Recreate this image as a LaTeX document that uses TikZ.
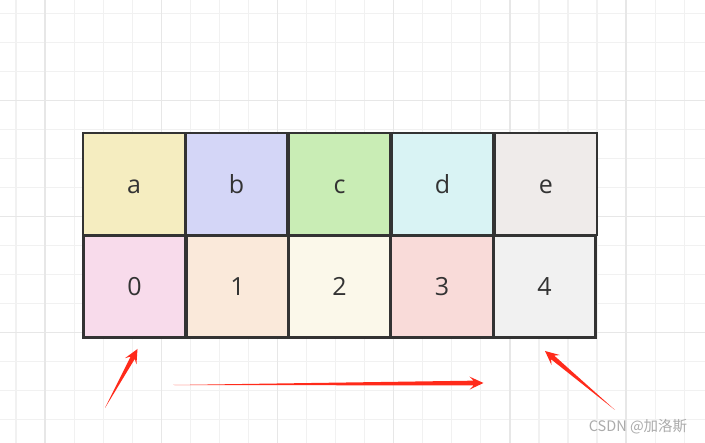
\documentclass[tikz,border=0pt]{standalone}
\usepackage{fontspec}
\setmainfont{Open Sans}
\newfontfamily\cjk{Noto Sans CJK SC}
\usetikzlibrary{calc}
\definecolor{gridminor}{HTML}{F1F1F1}
\definecolor{gridmajor}{HTML}{E7E7E7}
\definecolor{celledge}{HTML}{333333}
\definecolor{arrowred}{HTML}{FF2A1A}
\definecolor{ca}{HTML}{F5EDC0}
\definecolor{cb}{HTML}{D4D6F7}
\definecolor{cc}{HTML}{C9EDB5}
\definecolor{cd}{HTML}{D9F3F4}
\definecolor{ce}{HTML}{EFEBEA}
\definecolor{c0}{HTML}{F8DBEB}
\definecolor{c1}{HTML}{FAE9DA}
\definecolor{c2}{HTML}{FBF8EA}
\definecolor{c3}{HTML}{F9DBD9}
\definecolor{c4}{HTML}{F1F1F1}
\tikzset{
  cell/.style={draw=celledge, line width=2.6pt, rectangle, inner sep=0pt,
    minimum width=102pt, minimum height=102pt,
    text height=19pt, text depth=0pt, text=celledge,
    font=\fontsize{25}{25}\selectfont},
  watermark/.style={text=black!33, font=\cjk\fontsize{14.5}{14.5}\selectfont, inner sep=0pt},
}
\newcommand\taperarrow[2]{%
  \fill[arrowred] (#1)
    -- ($(#2)!10pt!(#1)!2.4pt!90:(#2)$)
    -- ($(#2)!14pt!(#1)!6.5pt!90:(#2)$)
    -- (#2)
    -- ($(#2)!14pt!(#1)!6.5pt!-90:(#2)$)
    -- ($(#2)!10pt!(#1)!2.4pt!-90:(#2)$)
    -- cycle;}
\begin{document}
\begin{tikzpicture}[x=1pt,y=-1pt]
\useasboundingbox (0,0) rectangle (705,443);
\fill[white] (0,0) rectangle (705,443);
% grid
\foreach \k in {0,...,23} {\draw[gridminor, line width=1.2pt] ({16+29.05*\k},0) -- ({16+29.05*\k},443);}
\foreach \k in {0,...,14} {\draw[gridminor, line width=1.2pt] (0,{13.5+29*\k}) -- (705,{13.5+29*\k});}
\foreach \k in {1,5,...,21} {\draw[gridmajor, line width=1.4pt] ({16+29.05*\k},0) -- ({16+29.05*\k},443);}
\foreach \k in {3,7,11} {\draw[gridmajor, line width=1.4pt] (0,{13.5+29*\k}) -- (705,{13.5+29*\k});}
% cells
\node[cell, fill=ca] (a) at (134,184) {a};
\node[cell, fill=cb] (b) at (236.5,184) {b};
\node[cell, fill=cc] (c) at (339.5,184) {c};
\node[cell, fill=cd] (d) at (442.5,184) {d};
\node[cell, fill=ce] (e) at (546,184) {e};
\node[cell, fill=c0] (n0) at (134.5,286.5) {0};
\node[cell, fill=c1] (n1) at (237.5,286.5) {1};
\node[cell, fill=c2] (n2) at (339.5,286.5) {2};
\node[cell, fill=c3] (n3) at (442,286.5) {3};
\node[cell, fill=c4] (n4) at (544.5,286.5) {4};
% arrows
\coordinate (t1) at (105,408);
\coordinate (h1) at (137.5,349);
\coordinate (t2) at (173,385);
\coordinate (h2) at (483.5,383);
\coordinate (t3) at (615,410);
\coordinate (h3) at (545,351);
\taperarrow{t1}{h1}
\taperarrow{t2}{h2}
\taperarrow{t3}{h3}
% watermark
\node[watermark] (wm) at (638,426.5) {CSDN @加洛斯};
\end{tikzpicture}
\end{document}
